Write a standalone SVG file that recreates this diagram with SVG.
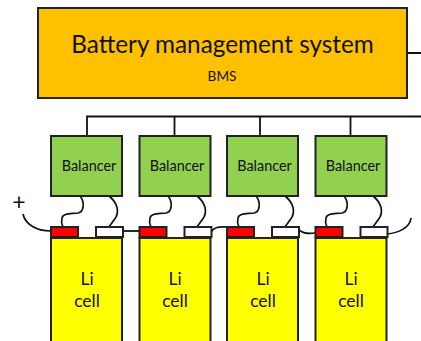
<svg xmlns="http://www.w3.org/2000/svg" width="421" height="341" viewBox="0 0 421 341">
<style>
text{font-family:"Lato","Carlito","Liberation Sans",sans-serif;fill:#111;text-anchor:middle}
.k{fill:none;stroke:#111;stroke-width:1.8}
.w{fill:none;stroke:#111;stroke-width:1.7}
.box{stroke:#222;stroke-width:2}
.bal{fill:#92D050}
.cell{fill:#FFFF00}
.pos{fill:#FF0000}
.neg{fill:#FFFFFF}
.l{font-size:14.400px}
.m{font-size:13.600px}
.c{font-size:17.500px}
</style>
<rect width="421" height="341" fill="#fff"/>
<g id="connectors">
<path class="k" d="M408 53H421M87 136V116.500H421M174.500 116.500V136M260 116.500V136M350.500 116.500V136"/>
<path class="k" d="M123 231H139"/>
<path class="w" d="M80 196C85 202 84 212 78 213C70 214 63 213 62 218C61 222 62 225 63 227"/>
<path class="w" d="M109 196C118 203 120 213 114 220C112 223 110 225 109 227"/>
<path class="w" d="M168 196C173 202 172 212 166 213C158 214 151 213 150 218C149 222 150 225 151 227"/>
<path class="w" d="M197 196C206 203 208 213 202 220C200 223 198 225 197 227"/>
<path class="w" d="M256 196C261 202 260 212 254 213C246 214 239 213 238 218C237 222 238 225 239 227"/>
<path class="w" d="M285 196C294 203 296 213 290 220C288 223 286 225 285 227"/>
<path class="w" d="M344 196C349 202 348 212 342 213C334 214 327 213 326 218C325 222 326 225 327 227"/>
<path class="w" d="M373 196C382 203 384 213 378 220C376 223 374 225 373 227"/>
<path class="w" d="M23 214C25 224 36 231 51 231"/>
<path class="w" d="M211 232C215 226 220 227 227 227"/>
<path class="w" d="M299 230C304 234 309 234 315 233"/>
<path class="w" d="M387 234C398 233 410 228 411 218"/>
</g>
<g id="bms"><rect class="box" x="38" y="8" width="369" height="90" fill="#FFC000"/>
<text x="222.500" y="53" font-size="24.300">Battery management system</text><text x="222" y="81" class="m">BMS</text></g>
<g id="balancer1"><rect class="box bal" x="51" y="136" width="71" height="60"/><text x="89" y="171" class="l">Balancer</text></g>
<g id="balancer2"><rect class="box bal" x="139.500" y="136" width="71" height="60"/><text x="177" y="171" class="l">Balancer</text></g>
<g id="balancer3"><rect class="box bal" x="227" y="136" width="71" height="60"/><text x="264.500" y="171" class="l">Balancer</text></g>
<g id="balancer4"><rect class="box bal" x="315.500" y="136" width="71" height="60"/><text x="353" y="171" class="l">Balancer</text></g>
<g id="cell1"><rect class="box cell" x="51" y="238" width="71" height="110"/><rect class="box pos" x="51" y="227" width="27" height="10"/><rect class="box neg" x="96" y="227" width="27" height="10"/><text x="87" y="285" class="c">Li</text><text x="87" y="307" class="c">cell</text></g>
<g id="cell2"><rect class="box cell" x="139.500" y="238" width="71" height="110"/><rect class="box pos" x="139.500" y="227" width="27" height="10"/><rect class="box neg" x="184.500" y="227" width="27" height="10"/><text x="175" y="285" class="c">Li</text><text x="175" y="307" class="c">cell</text></g>
<g id="cell3"><rect class="box cell" x="227" y="238" width="71" height="110"/><rect class="box pos" x="227" y="227" width="27" height="10"/><rect class="box neg" x="272" y="227" width="27" height="10"/><text x="263" y="285" class="c">Li</text><text x="263" y="307" class="c">cell</text></g>
<g id="cell4"><rect class="box cell" x="315.500" y="238" width="71" height="110"/><rect class="box pos" x="315.500" y="227" width="27" height="10"/><rect class="box neg" x="360.500" y="227" width="27" height="10"/><text x="351" y="285" class="c">Li</text><text x="351" y="307" class="c">cell</text></g>
<text x="19" y="210" font-size="23">+</text>
</svg>
